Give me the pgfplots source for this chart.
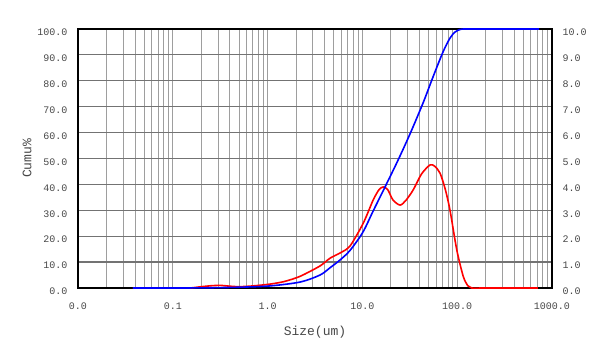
\documentclass[border=0pt]{standalone}
\usepackage{pgfplots}
\pgfplotsset{compat=1.18}
\usepackage{fontspec}
\setmonofont{Liberation Mono}
\definecolor{txt}{HTML}{474747}
\begin{document}
\begin{tikzpicture}
\useasboundingbox (-78pt,-64pt) rectangle (522pt,288pt);
% frame, grid, x labels, right axis (density) -- drawn first
\begin{axis}[
  scale only axis, width=474pt, height=259pt,
  xmode=log, xmin=0.01, xmax=1000, ymin=0, ymax=10,
  clip=false,
  yticklabel pos=right,
  xtick={0.01,0.1,1,10,100,1000},
  xticklabels={0.0,0.1,1.0,10.0,100.0,1000.0},
  ytick={0,1,2,3,4,5,6,7,8,9,10},
  yticklabels={0.0,1.0,2.0,3.0,4.0,5.0,6.0,7.0,8.0,9.0,10.0},
  xmajorgrids, xminorgrids, ymajorgrids,
  x grid style={black!38, line width=1pt},
  y grid style={black!55, line width=1.2pt},
  major tick length=0pt, minor tick length=0pt,
  axis line style={black, line width=1.2pt},
  ticklabel style={font=\ttfamily\fontsize{10}{10}\selectfont, text=txt},
  xticklabel style={anchor=center, yshift=-18.7pt},
  yticklabel style={anchor=west, xshift=7pt, yshift=-3.5pt},
  xlabel={Size(um)},
  label style={font=\ttfamily\fontsize{13}{13}\selectfont, text=txt},
  xlabel style={at={(axis description cs:0.5,0)}, anchor=center, yshift=-44pt},
]
\addplot[red, line width=1.6pt, smooth, tension=0.45] coordinates {
(0.038,0) (0.1,0) (0.15,0) (0.2,0.05) (0.26,0.09) (0.32,0.1) (0.4,0.07) (0.5,0.05)
(0.7,0.08) (1.06,0.15) (1.5,0.25) (2.2,0.45) (3.57,0.85) (4.55,1.15)
(5.8,1.35) (7.4,1.62) (10.2,2.5) (13,3.4) (15,3.8) (16.6,3.9) (18.5,3.8)
(21,3.4) (25,3.2) (29,3.4) (34.5,3.8) (42,4.4) (51.6,4.75) (58,4.7)
(66,4.43) (75,3.8) (84,3.0) (99,1.47) (116,0.44) (130,0.08) (142,0) (200,0) (711,0)
};
\end{axis}
% left axis (cumulative), no lines of its own
\begin{axis}[
  scale only axis, width=474pt, height=259pt,
  xmode=log, xmin=0.01, xmax=1000, ymin=0, ymax=100,
  clip=false,
  xtick=\empty,
  ytick={0,10,20,30,40,50,60,70,80,90,100},
  yticklabels={0.0,10.0,20.0,30.0,40.0,50.0,60.0,70.0,80.0,90.0,100.0},
  yticklabel pos=left,
  major tick length=0pt, minor tick length=0pt,
  axis line style={draw=none},
  ticklabel style={font=\ttfamily\fontsize{10}{10}\selectfont, text=txt},
  yticklabel style={anchor=east, xshift=-7pt, yshift=-3.5pt},
  ylabel={Cumu\%},
  label style={font=\ttfamily\fontsize{13}{13}\selectfont, text=txt},
  ylabel style={at={(axis description cs:0,0.5)}, anchor=center, yshift=51pt},
]
\addplot[blue, line width=1.6pt, smooth, tension=0.5] coordinates {
(0.038,0) (0.1,0) (0.2,0.05) (0.5,0.3) (1.06,0.8) (2.2,2.3) (3.57,5)
(4.55,7.8) (5.8,10.8) (7.4,14.5) (10.1,21.5) (12.9,29.5) (18.6,41.3)
(23.8,49.4) (31.8,59.5) (43.6,71.4) (55.6,81.5) (70.8,91.1) (84,96.5)
(94.8,98.8) (107,99.8) (121,100) (200,100) (730,100)
};
\end{axis}
\end{tikzpicture}
\end{document}
